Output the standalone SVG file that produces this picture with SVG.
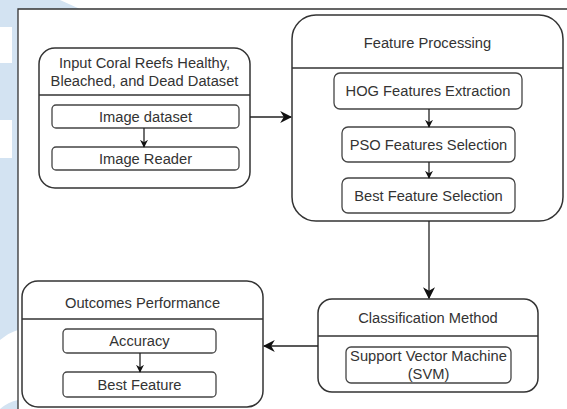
<svg xmlns="http://www.w3.org/2000/svg" width="567" height="409" viewBox="0 0 567 409">
<style>
.outer{fill:#fff;stroke:#333;stroke-width:1.5}
.div{stroke:#333;stroke-width:1.3}
.box{fill:#fff;stroke:#444;stroke-width:1.3}
.t{font-family:"Liberation Sans",Arial,sans-serif;font-size:14.7px;fill:#333;text-anchor:middle;dominant-baseline:central}
.c{stroke:#222;stroke-width:1.3;fill:none}
.bg{fill:#d3e3f2}
</style>
<defs>
<marker id="ah" viewBox="0 0 10 10" refX="9" refY="5" markerWidth="8" markerHeight="8" markerUnits="userSpaceOnUse" orient="auto">
<path d="M0,0 L10,5 L0,10 L3,5 Z" fill="#111"/>
</marker>
<marker id="ahL" viewBox="0 0 10 10" refX="9" refY="5" markerWidth="12" markerHeight="12" markerUnits="userSpaceOnUse" orient="auto">
<path d="M0,0 L10,5 L0,10 L3,5 Z" fill="#111"/>
</marker>
</defs>
<rect width="567" height="409" fill="#fff"/>
<g id="background">
<path class="bg" d="M0,0 H60 L80,9 H18 V409 H0 Z"/>
<rect x="0" y="27" width="12" height="36" fill="#fff"/>
<rect x="0" y="120" width="12" height="38" fill="#fff"/>
<path d="M0,340 Q10,332 18,330 V400 Q8,402 0,409 Z" fill="#fff"/>
</g>
<g id="frame">
<path d="M18,409 V9 H567" fill="none" stroke="#333" stroke-width="1.3"/>
</g>
<g id="input-node">
<rect class="outer" x="39" y="48" width="211" height="140" rx="16"/>
<line class="div" x1="39" y1="95" x2="250" y2="95"/>
<text class="t" x="144.5" y="63">Input Coral Reefs Healthy,</text>
<text class="t" x="144.5" y="81">Bleached, and Dead Dataset</text>
</g>
<g id="image-dataset">
<rect class="box" x="52" y="105" width="187" height="23" rx="4"/>
<text class="t" x="145.5" y="116.5">Image dataset</text>
</g>
<g id="image-reader">
<rect class="box" x="52" y="147" width="187" height="23" rx="4"/>
<text class="t" x="145.5" y="158.5">Image Reader</text>
</g>
<g id="feature-processing">
<rect class="outer" x="292" y="15" width="271" height="206" rx="24"/>
<line class="div" x1="292" y1="68" x2="563" y2="68"/>
<text class="t" x="427.5" y="43">Feature Processing</text>
</g>
<g id="hog">
<rect class="box" x="334" y="73" width="188" height="36" rx="6"/>
<text class="t" x="428" y="91">HOG Features Extraction</text>
</g>
<g id="pso">
<rect class="box" x="342" y="127" width="173" height="35" rx="6"/>
<text class="t" x="428.5" y="144.5">PSO Features Selection</text>
</g>
<g id="best-feature-selection">
<rect class="box" x="342" y="178" width="173" height="35" rx="6"/>
<text class="t" x="428.5" y="195.5">Best Feature Selection</text>
</g>
<g id="classification">
<rect class="outer" x="318" y="299" width="220" height="93" rx="14"/>
<line class="div" x1="318" y1="336" x2="538" y2="336"/>
<text class="t" x="428" y="318">Classification Method</text>
</g>
<g id="svm">
<rect class="box" x="346" y="347" width="165" height="36" rx="5"/>
<text class="t" x="428.5" y="356">Support Vector Machine</text>
<text class="t" x="428.5" y="374">(SVM)</text>
</g>
<g id="outcomes">
<rect class="outer" x="22" y="281" width="241" height="126" rx="16"/>
<line class="div" x1="22" y1="319" x2="263" y2="319"/>
<text class="t" x="142.5" y="303">Outcomes Performance</text>
</g>
<g id="accuracy">
<rect class="box" x="63" y="329" width="153" height="24" rx="4"/>
<text class="t" x="139.5" y="341">Accuracy</text>
</g>
<g id="best-feature">
<rect class="box" x="63" y="372" width="153" height="25" rx="4"/>
<text class="t" x="139.5" y="384.5">Best Feature</text>
</g>
<g id="connectors">
<line class="c" x1="144" y1="128" x2="144" y2="147" marker-end="url(#ah)"/>
<line class="c" x1="429" y1="109" x2="429" y2="127" marker-end="url(#ah)"/>
<line class="c" x1="429" y1="162" x2="429" y2="178" marker-end="url(#ah)"/>
<line class="c" x1="140" y1="353" x2="140" y2="372" marker-end="url(#ah)"/>
<line class="c" x1="250" y1="117" x2="291" y2="117" marker-end="url(#ahL)"/>
<line class="c" x1="429" y1="221" x2="429" y2="298" marker-end="url(#ahL)"/>
<line class="c" x1="318" y1="346" x2="264" y2="346" marker-end="url(#ahL)"/>
</g>
</svg>
